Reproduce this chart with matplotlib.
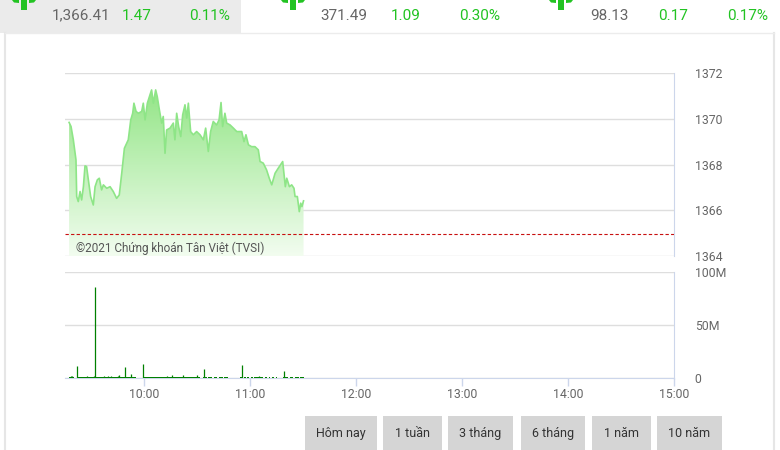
import numpy as np
import matplotlib.pyplot as plt
from matplotlib.patches import Rectangle, Polygon

# header quotes (three indices)
index_values = ['1,366.41', '371.49', '98.13']
index_changes = ['1.47', '1.09', '0.17']
index_pcts = ['0.11%', '0.30%', '0.17%']

ref_price = 1364.94

# intraday price, minutes since 9:00
price_minutes = [17.6, 18.7, 20.0, 21.5, 21.9, 22.8, 23.8, 24.7, 25.7, 26.6,
                 27.5, 28.5, 29.8, 31.3, 32.3, 33.6, 34.7, 36.0, 37.0, 38.9,
                 40.8, 42.6, 44.5, 46.0, 47.4, 48.9, 51.1, 52.5, 53.6, 54.3,
                 55.5, 56.8, 58.7, 59.6, 60.6, 61.9, 63.4, 64.3, 65.3, 66.6,
                 67.5, 68.7, 70.0, 70.9, 71.9, 72.8, 74.7, 76.6, 77.5, 78.5,
                 79.6, 80.8, 81.9, 83.2, 84.2, 85.1, 86.4, 87.9, 89.8, 91.7,
                 93.6, 94.9, 96.4, 97.7, 99.2, 101.1, 102.5, 103.6, 104.5, 105.8,
                 106.8, 108.7, 110.6, 112.5, 115.3, 116.6, 117.7, 119.1, 120.9, 122.8,
                 124.7, 125.7, 127.5, 129.4, 130.9, 132.3, 134.2, 136.0, 138.5, 139.2,
                 140.0, 140.8, 142.3, 143.6, 144.9, 145.5, 146.8, 147.9, 148.7, 149.4,
                 150.3]
price_values = [1369.84, 1369.66, 1369.08, 1368.20, 1366.60, 1366.38, 1366.82, 1366.45, 1367.03, 1367.94,
                1367.91, 1367.33, 1366.60, 1366.23, 1367.03, 1367.33, 1367.40, 1366.89, 1367.11, 1366.96,
                1367.03, 1366.82, 1366.52, 1366.67, 1367.62, 1368.71, 1369.08, 1369.95, 1370.24, 1370.68,
                1370.32, 1370.24, 1370.32, 1370.68, 1369.95, 1370.68, 1371.05, 1371.26, 1370.68, 1371.26,
                1370.97, 1370.39, 1369.81, 1370.10, 1368.49, 1369.51, 1369.59, 1369.81, 1369.08, 1370.24,
                1369.66, 1369.22, 1370.17, 1370.61, 1370.03, 1370.68, 1369.44, 1369.30, 1369.44, 1369.30,
                1369.08, 1369.59, 1368.57, 1369.44, 1369.88, 1369.73, 1369.95, 1370.71, 1369.66, 1370.24,
                1369.81, 1369.73, 1369.59, 1369.44, 1369.44, 1369.00, 1369.30, 1368.86, 1368.78, 1368.78,
                1368.64, 1368.13, 1368.06, 1367.76, 1367.40, 1367.11, 1367.62, 1367.84, 1368.13, 1367.62,
                1367.03, 1367.40, 1367.03, 1367.11, 1366.96, 1366.60, 1366.60, 1365.94, 1366.31, 1366.16,
                1366.41]

# volume (millions), notable bars
vol_minutes = [18.5, 19.2, 22.3, 27.9, 31.9, 32.3, 37.5, 39.8, 41.1, 45.5, 46.0,
               49.4, 52.5, 59.6, 73.2, 75.7, 82.3, 89.8, 94.2, 115.3, 125.3, 139.4]
vol_values = [2.0, 1.5, 11.0, 1.5, 1.5, 86.0, 1.5, 1.5, 1.8, 2.0, 3.0,
              10.5, 3.8, 13.0, 1.5, 2.5, 2.5, 3.2, 8.5, 12.2, 1.5, 6.6]
# minutes with very small volume (green strip along the baseline)
tiny_minutes = [18, 19, 20,
                23, 24, 25, 26, 27, 28, 29, 30, 31, 32, 33, 34, 35, 36, 37, 38, 39,
                40, 41, 42, 43, 44, 45, 46, 47, 48, 49, 50, 51, 52, 53, 54, 55,
                60, 61, 62, 63, 64, 65, 66, 67, 68, 69, 70, 71, 72, 73, 74, 75,
                76, 77, 78, 79, 80, 81, 82, 83, 84, 85, 86, 87, 88, 89, 90, 91,
                94, 95, 97, 98, 100, 101, 103, 104, 106, 107,
                115, 117, 119, 121, 123, 124, 125, 126, 127, 129, 131, 133, 135,
                139, 140, 141, 143, 144, 146, 147, 149, 150]
tiny_volume = 1.4

hour_ticks = [60, 120, 180, 240, 300, 360]
hour_labels = ['10:00', '11:00', '12:00', '13:00', '14:00', '15:00']
price_ticks = [1364, 1366, 1368, 1370, 1372]
vol_ticks = [0, 50, 100]
vol_labels = ['0', '50M', '100M']
buttons = ['Hôm nay', '1 tuần', '3 tháng', '6 tháng', '1 năm', '10 năm']

NARROW = ['Liberation Sans Narrow', 'Roboto', 'DejaVu Sans']
plt.rcParams['font.family'] = ['Roboto', 'DejaVu Sans']

W, H = 780, 450


def box(l, t, r, b):
    return [l / W, 1 - b / H, (r - l) / W, (b - t) / H]


fig = plt.figure(figsize=(W / 100, H / 100), dpi=100)
fig.patch.set_facecolor('white')

# page decorations in pixel coordinates
deco = fig.add_axes([0, 0, 1, 1], zorder=0)
deco.set_xlim(0, W)
deco.set_ylim(H, 0)
deco.axis('off')
deco.add_patch(Rectangle((0, 0), 241, 33, color='#ebebeb', lw=0))
deco.plot([5, 5], [33, 450], color='#e6e6e6', lw=1.5)
deco.plot([774, 774], [33, 450], color='#e6e6e6', lw=1.5)
deco.plot([5, 774], [33, 33], color='#ececec', lw=1)

green = '#22c322'
arrow_x = [24, 293, 561]
val_x = [81, 344, 609]
chg_x = [137, 406, 673]
pct_x = [210, 480, 748]
for i in range(3):
    cx = arrow_x[i]
    deco.add_patch(Rectangle((cx - 3, 0), 6, 9.5, color=green, lw=0))
    deco.add_patch(Polygon([(cx - 12, 0), (cx - 5, 0), (cx - 5, 3), (cx - 10, 2.5)], color=green, lw=0))
    deco.add_patch(Polygon([(cx + 12, 0), (cx + 5, 0), (cx + 5, 3), (cx + 10, 2.5)], color=green, lw=0))
    deco.text(val_x[i], 15.5, index_values[i], ha='center', va='center', fontsize=11,
              color='#666666', family=NARROW)
    deco.text(chg_x[i], 15.5, index_changes[i], ha='center', va='center', fontsize=11,
              color=green, family=NARROW)
    deco.text(pct_x[i], 15.5, index_pcts[i], ha='center', va='center', fontsize=11,
              color=green, family=NARROW)

btn_left = [305, 383, 448, 521, 592, 657]
btn_width = [72, 59, 65, 64, 59, 65]
for lbl, bl, bw in zip(buttons, btn_left, btn_width):
    deco.add_patch(Rectangle((bl, 416), bw, 36, color='#d5d5d5', lw=0))
    deco.text(bl + bw / 2, 433.5, lbl, ha='center', va='center', fontsize=9, color='#333333')

# price panel
ax = fig.add_axes(box(64.5, 73, 674, 256), zorder=2)
ax.set_facecolor('none')
ax.set_xlim(15, 360)
ax.set_ylim(1364, 1372)

poly = ax.fill_between(price_minutes, price_values, 1364, facecolor='none', lw=0)
top_c = np.array([0.58, 0.90, 0.53])
bot_c = np.array([0.95, 0.99, 0.94])
g = np.linspace(0, 1, 256)[:, None, None]
img = top_c * (1 - g) + bot_c * g
im = ax.imshow(img, extent=[min(price_minutes), max(price_minutes), 1364, max(price_values)],
               aspect='auto', origin='upper', zorder=1)
im.set_clip_path(poly.get_paths()[0], transform=ax.transData)
ax.plot(price_minutes, price_values, color='#8ee587', lw=1.2, zorder=3)
ax.axhline(ref_price, color='#c81010', lw=0.8, ls=(0, (3, 2)), zorder=4)

ax.text(76, 248, '©2021 Chứng khoán Tân Việt (TVSI)', transform=deco.transData,
        fontsize=8.5, color='#555555', va='center', ha='left', zorder=5)

ax.set_yticks(price_ticks)
ax.set_yticklabels([str(t) for t in price_ticks], family=NARROW)
ax.yaxis.tick_right()
ax.tick_params(axis='y', length=0, pad=15, labelsize=8.8, labelcolor='#666666')
ax.set_xticks([])
ax.grid(axis='y', color='#dedede', lw=1)
ax.set_axisbelow(True)
for s in ['top', 'left', 'bottom']:
    ax.spines[s].set_visible(False)
ax.spines['right'].set_color('#ccd6eb')

# volume panel
vax = fig.add_axes(box(64.5, 272, 674, 378), zorder=2)
vax.set_facecolor('none')
vax.set_xlim(15, 360)
vax.set_ylim(0, 100)
vax.bar(tiny_minutes, [tiny_volume] * len(tiny_minutes), width=1.0,
        color='#008000', lw=0, zorder=3)
vax.vlines(vol_minutes, 0, vol_values, color='#008000', lw=0.9, zorder=3)
vax.set_yticks(vol_ticks)
vax.set_yticklabels(vol_labels, family=NARROW)
vax.yaxis.tick_right()
vax.tick_params(axis='y', length=0, pad=15, labelsize=8.8, labelcolor='#666666')
vax.set_xticks(hour_ticks)
vax.set_xticklabels(hour_labels, family=NARROW)
vax.tick_params(axis='x', length=6, width=1, color='#ccd6eb', pad=1.5,
                labelsize=8.8, labelcolor='#666666')
vax.grid(axis='y', color='#dedede', lw=1)
vax.set_axisbelow(True)
for s in ['top', 'left']:
    vax.spines[s].set_visible(False)
vax.spines['right'].set_color('#ccd6eb')
vax.spines['bottom'].set_color('#ccd6eb')

fig.savefig('out.png', dpi=100)
